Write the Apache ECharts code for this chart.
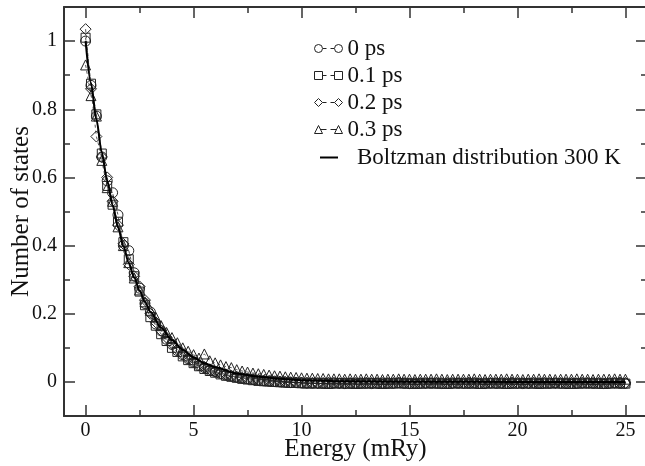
<!DOCTYPE html>
<html><head><meta charset="utf-8">
<script src="https://cdn.jsdelivr.net/npm/echarts@6/dist/echarts.min.js"></script>
<style>html,body{margin:0;padding:0;background:#fff}#c{width:645px;height:466px}</style>
</head><body><div id="c"></div>
<script>
const energies = [0,0.25,0.5,0.75,1,1.25,1.5,1.75,2,2.25,2.5,2.75,3,3.25,3.5,3.75,4,4.25,4.5,4.75,
5,5.25,5.5,5.75,6,6.25,6.5,6.75,7,7.25,7.5,7.75,8,8.25,8.5,8.75,9,9.25,9.5,9.75,
10,10.25,10.5,10.75,11,11.25,11.5,11.75,12,12.25,12.5,12.75,13,13.25,13.5,13.75,14,14.25,14.5,14.75,
15,15.25,15.5,15.75,16,16.25,16.5,16.75,17,17.25,17.5,17.75,18,18.25,18.5,18.75,19,19.25,19.5,19.75,
20,20.25,20.5,20.75,21,21.25,21.5,21.75,22,22.25,22.5,22.75,23,23.25,23.5,23.75,24,24.25,24.5,24.75,25];

const states0ps = [1.00,0.87,0.78,0.66,0.59,0.555,0.49,0.40,0.385,0.32,
0.275,0.23,0.205,0.17,0.15,0.125,0.11,0.092,0.08,0.068,
0.058,0.048,0.042,0.034,0.03,0.025,0.02,0.017,0.014,0.011,
0.009,0.007,0.005,0.003,0.002,0.001,0.0,-0.001,-0.002,-0.002,
-0.003,
-0.003,-0.004,-0.003,-0.004,-0.004,-0.003,-0.004,-0.005,-0.004,-0.003,
-0.004,-0.004,-0.005,-0.004,-0.003,-0.004,-0.004,-0.003,-0.004,-0.005,
-0.004,-0.004,-0.003,-0.004,-0.004,-0.005,-0.004,-0.003,-0.004,-0.004,
-0.004,-0.003,-0.004,-0.005,-0.004,-0.004,-0.003,-0.004,-0.004,-0.004,
-0.005,-0.004,-0.003,-0.004,-0.004,-0.004,-0.003,-0.004,-0.005,-0.004,
-0.004,-0.003,-0.004,-0.004,-0.004,-0.005,-0.004,-0.003,-0.004,-0.004];

const states01ps = [1.01,0.875,0.785,0.67,0.575,0.52,0.47,0.41,0.36,0.31,
0.265,0.225,0.19,0.165,0.14,0.12,0.10,0.088,0.075,0.064,
0.055,0.046,0.038,0.032,0.027,0.022,0.018,0.015,0.012,0.009,
0.007,0.005,0.003,0.002,0.001,0.0,-0.001,-0.002,-0.003,-0.003,
-0.004,
-0.005,-0.004,-0.005,-0.005,-0.006,-0.005,-0.004,-0.005,-0.005,-0.006,
-0.005,-0.005,-0.004,-0.005,-0.006,-0.005,-0.005,-0.004,-0.005,-0.005,
-0.006,-0.005,-0.005,-0.004,-0.005,-0.005,-0.006,-0.005,-0.004,-0.005,
-0.005,-0.005,-0.006,-0.005,-0.004,-0.005,-0.005,-0.006,-0.005,-0.005,
-0.004,-0.005,-0.005,-0.006,-0.005,-0.005,-0.004,-0.005,-0.005,-0.006,
-0.005,-0.005,-0.004,-0.005,-0.005,-0.006,-0.005,-0.004,-0.005,-0.005];

const states02ps = [1.035,0.86,0.72,0.66,0.60,0.53,0.46,0.405,0.345,0.31,
0.28,0.24,0.20,0.175,0.15,0.13,0.112,0.095,0.082,0.07,
0.06,0.05,0.044,0.037,0.031,0.026,0.022,0.018,0.015,0.012,
0.010,0.008,0.006,0.004,0.003,0.002,0.001,0.0,-0.001,-0.002,
-0.002,
-0.003,-0.003,-0.004,-0.003,-0.002,-0.003,-0.004,-0.003,-0.003,-0.004,
-0.003,-0.002,-0.003,-0.003,-0.004,-0.003,-0.003,-0.002,-0.003,-0.004,
-0.003,-0.003,-0.004,-0.003,-0.002,-0.003,-0.003,-0.004,-0.003,-0.003,
-0.002,-0.003,-0.004,-0.003,-0.003,-0.003,-0.004,-0.003,-0.002,-0.003,
-0.003,-0.004,-0.003,-0.003,-0.002,-0.003,-0.004,-0.003,-0.003,-0.003,
-0.004,-0.003,-0.002,-0.003,-0.003,-0.004,-0.003,-0.003,-0.002,-0.003];

const states03ps = [0.93,0.84,0.78,0.65,0.57,0.53,0.455,0.40,0.35,0.305,
0.27,0.235,0.21,0.19,0.165,0.145,0.13,0.115,0.10,0.09,
0.08,0.07,0.082,0.062,0.056,0.05,0.045,0.042,0.036,0.032,
0.029,0.026,0.024,0.022,0.020,0.018,0.017,0.015,0.014,0.013,
0.012,
0.011,0.011,0.010,0.010,0.009,0.009,0.009,0.008,0.009,0.008,
0.008,0.009,0.008,0.008,0.007,0.008,0.008,0.009,0.008,0.008,
0.007,0.008,0.008,0.008,0.009,0.008,0.007,0.008,0.008,0.008,
0.008,0.009,0.008,0.007,0.008,0.008,0.008,0.009,0.008,0.008,
0.007,0.008,0.008,0.009,0.008,0.008,0.007,0.008,0.008,0.008,
0.009,0.008,0.008,0.007,0.008,0.008,0.008,0.009,0.008,0.008];

const boltzE = [0,0.25,0.5,0.75,1,1.25,1.5,1.75,2,2.25,2.5,2.75,3,3.5,4,4.5,5,5.5,6,7,8,9,10,12,15,20,25];
const boltzN = [1.000,0.877,0.769,0.674,0.591,0.518,0.454,0.398,0.349,0.306,0.268,0.235,0.206,0.159,0.122,0.094,0.072,0.055,0.043,0.025,0.015,0.009,0.005,0.002,0.0004,0.00003,0.0];

const xMajorTicks = [0,5,10,15,20,25];
const xMinorTicks = [2.5,7.5,12.5,17.5,22.5];
const yMajorTicks = [0,0.2,0.4,0.6,0.8,1];
const yMinorTicks = [0.1,0.3,0.5,0.7,0.9];

const seriesNames = ['0 ps','0.1 ps','0.2 ps','0.3 ps'];
const curveName = 'Boltzman distribution 300 K';
const xTitle = 'Energy (mRy)';
const yTitle = 'Number of states';

const FONT = 'Liberation Serif';
const AX = '#333';
const chart = echarts.init(document.getElementById('c'), null, {renderer:'canvas'});

function axisBase(type, pos, ticks, len, labels, line) {
  const isX = type === 'x';
  return {type:'value', position:pos,
    min: isX ? -1 : -0.1, max: isX ? 26 : 1.1,
    axisLine:{show:line, onZero:false, lineStyle:{color:AX, width:2}},
    axisTick:{show:true, inside:true, length:len, customValues:ticks, lineStyle:{color:AX, width:1.5}},
    axisLabel:{show:labels, customValues:ticks, hideOverlap:false, margin: isX ? 5 : 7,
      fontFamily:FONT, fontSize:20, color:'#111'},
    splitLine:{show:false}, minorTick:{show:false}};
}
const xAxes = [axisBase('x','bottom',xMajorTicks,11,true,true), axisBase('x','bottom',xMinorTicks,6,false,false),
               axisBase('x','top',xMajorTicks,11,false,true), axisBase('x','top',xMinorTicks,6,false,false)];
xAxes[0].name = xTitle; xAxes[0].nameLocation='middle'; xAxes[0].nameGap=21; xAxes[0].nameMoveOverlap=false;
xAxes[0].nameTextStyle={fontFamily:FONT, fontSize:25, color:'#111'};
const yAxes = [axisBase('y','left',yMajorTicks,11,true,true), axisBase('y','left',yMinorTicks,6,false,false),
               axisBase('y','right',yMajorTicks,11,false,true), axisBase('y','right',yMinorTicks,6,false,false)];
yAxes[0].name = yTitle; yAxes[0].nameLocation='middle'; yAxes[0].nameGap=30; yAxes[0].nameMoveOverlap=false;
yAxes[0].nameTextStyle={fontFamily:FONT, fontSize:25, color:'#111'};

function markerSeries(name, vals, symbol, size) {
  return {name:name, type:'line', xAxisIndex:0, yAxisIndex:0,
    data: energies.map(function(e,i){ return [e, vals[i]]; }),
    symbol:symbol, symbolSize:size, showSymbol:true, showAllSymbol:true,
    itemStyle:{color:'transparent', borderColor:'#222', borderWidth:1},
    lineStyle:{color:'#555', width:1, type:[3,3]},
    emphasis:{disabled:true}, z:2};
}
const icons = {
  circle:'path://M8.5,4.5A4,4,0,1,1,0.5,4.5A4,4,0,1,1,8.5,4.5ZM9,4.5L12.5,4.5M16.5,4.5L20,4.5M28.5,4.5A4,4,0,1,1,20.5,4.5A4,4,0,1,1,28.5,4.5Z',
  rect:'path://M0.5,0.5L8.5,0.5L8.5,8.5L0.5,8.5ZM8.5,4.5L12.5,4.5M16.5,4.5L20.5,4.5M20.5,0.5L28.5,0.5L28.5,8.5L20.5,8.5Z',
  diamond:'path://M4.5,0.5L8.5,4.5L4.5,8.5L0.5,4.5ZM8.5,4.5L12.5,4.5M16.5,4.5L20.5,4.5M24.5,0.5L28.5,4.5L24.5,8.5L20.5,4.5Z',
  triangle:'path://M4.5,0.5L8.5,8.5L0.5,8.5ZM6.5,4.5L12.5,4.5M16.5,4.5L22.5,4.5M24.5,0.5L28.5,8.5L20.5,8.5Z'
};

chart.setOption({
  animation:false,
  backgroundColor:'#fff',
  grid:{left:64, top:7, width:583, height:409, containLabel:false, outerBoundsMode:'none'},
  xAxis:xAxes, yAxis:yAxes,
  legend:[{
    left:309, top:32, orient:'vertical', itemWidth:28, itemHeight:8, itemGap:4, selectedMode:false,
    textStyle:{fontFamily:FONT, fontSize:23, color:'#111'},
    itemStyle:{color:'transparent', borderColor:'#222', borderWidth:1},
    data:[{name:seriesNames[0], icon:icons.circle},{name:seriesNames[1], icon:icons.rect},
          {name:seriesNames[2], icon:icons.diamond},{name:seriesNames[3], icon:icons.triangle}]
  },{
    left:315, top:141, orient:'vertical', itemWidth:18, itemHeight:2, selectedMode:false,
    textStyle:{fontFamily:FONT, fontSize:23, color:'#111', padding:[0,0,0,14]},
    itemStyle:{color:'#000', borderWidth:0},
    data:[{name:curveName, icon:'rect'}]
  }],
  series:[
    markerSeries(seriesNames[0], states0ps, 'circle', 10),
    markerSeries(seriesNames[1], states01ps, 'rect', 9),
    markerSeries(seriesNames[2], states02ps, 'diamond', 11),
    markerSeries(seriesNames[3], states03ps, 'triangle', 10),
    {name:curveName, type:'line', xAxisIndex:0, yAxisIndex:0,
     data: boltzE.map(function(e,i){ return [e, boltzN[i]]; }),
     symbol:'none', smooth:0.3, smoothMonotone:'x',
     lineStyle:{color:'#000', width:2}, emphasis:{disabled:true}, z:3}
  ]
});
</script></body></html>
